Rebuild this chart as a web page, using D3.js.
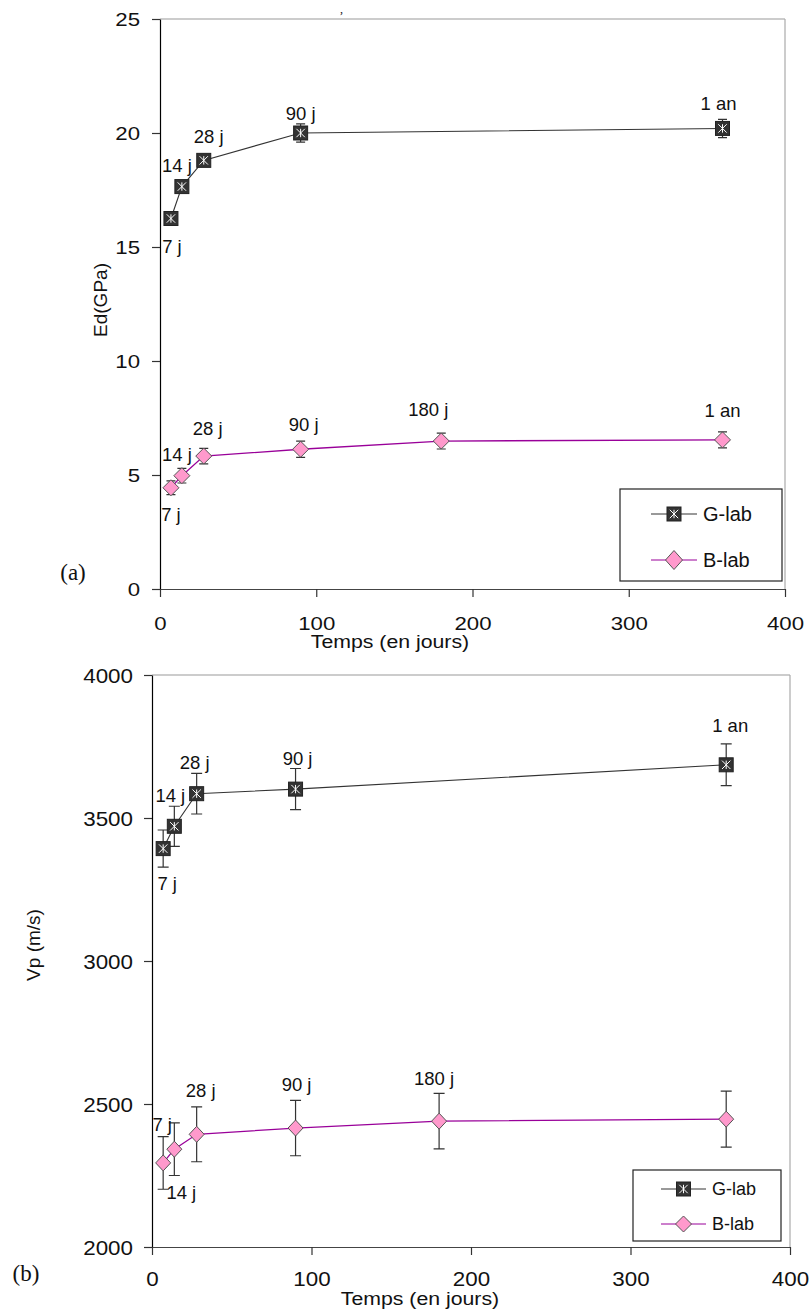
<!DOCTYPE html>
<html><head><meta charset="utf-8">
<script src="https://cdn.jsdelivr.net/npm/d3@7"></script>
<style>
html,body{margin:0;padding:0;background:#fff;}
svg{display:block;}
text{font-family:"Liberation Sans",Arial,sans-serif;fill:#111;}
</style></head>
<body>
<svg id="chart" width="811" height="1311"></svg>
<script>
// ---------- DATA ----------
const daysG = [7, 14, 28, 90, 360];
const daysB = [7, 14, 28, 90, 180, 360];
const labelsG = ["7 j", "14 j", "28 j", "90 j", "1 an"];
const labelsBa = ["7 j", "14 j", "28 j", "90 j", "180 j", "1 an"];
const labelsBb = ["7 j", "14 j", "28 j", "90 j", "180 j", ""];

const edGlab = [16.25, 17.65, 18.8, 20.0, 20.2];
const edGlabErr = [0.2, 0.2, 0.2, 0.4, 0.4];
const edBlab = [4.44, 4.97, 5.83, 6.13, 6.49, 6.54];
const edBlabErr = [0.3, 0.32, 0.34, 0.36, 0.35, 0.35];

const vpGlab = [3393, 3471, 3585, 3601, 3686];
const vpGlabErr = [65, 70, 71, 72, 73];
const vpBlab = [2294, 2342, 2394, 2416, 2440, 2447];
const vpBlabErr = [92, 92, 96, 97, 97, 98];

const xTicks = [0, 100, 200, 300, 400];
const edTicks = [0, 5, 10, 15, 20, 25];
const vpTicks = [2000, 2500, 3000, 3500, 4000];
const seriesNames = ["G-lab", "B-lab"];

// ---------- LAYOUT / STYLE ----------
const svg = d3.select("#chart");
const colG = "#333", colB = "#990099";

function drawSquare(g, x, y, s) {
  const m = g.append("g").attr("transform", `translate(${x},${y})`);
  m.append("rect").attr("x", -s/2).attr("y", -s/2).attr("width", s).attr("height", s)
    .attr("fill", "#333").attr("stroke", "#222").attr("stroke-width", 1);
  const r = s*0.3;
  m.append("path").attr("d", `M0,${-r}V${r}M${-r},${-r}L${r},${r}M${r},${-r}L${-r},${r}`)
    .attr("stroke", "#fff").attr("stroke-width", 1);
}
function drawDiamond(g, x, y, w, h) {
  g.append("path").attr("d", `M${x},${y-h/2}L${x+w/2},${y}L${x},${y+h/2}L${x-w/2},${y}Z`)
    .attr("fill", "#ff99cc").attr("stroke", "#555").attr("stroke-width", 1);
}

function panel(cfg) {
  const x = d3.scaleLinear().domain([0, 400]).range([cfg.x0, cfg.x1]);
  const y = d3.scaleLinear().domain(cfg.yDomain).range([cfg.y0, cfg.y1]);
  const g = svg.append("g");

  // frame top/right
  g.append("line").attr("x1", cfg.x0).attr("x2", cfg.x1).attr("y1", cfg.y1).attr("y2", cfg.y1)
    .attr("stroke", "#999").attr("stroke-width", 1.2);
  g.append("line").attr("x1", cfg.x1).attr("x2", cfg.x1).attr("y1", cfg.y1).attr("y2", cfg.y0)
    .attr("stroke", "#aaa").attr("stroke-width", 1.2);

  // axes
  const ya = g.append("g").attr("transform", `translate(${cfg.x0},0)`)
    .call(d3.axisLeft(y).tickValues(cfg.yTicks).tickSize(8).tickSizeOuter(0).tickFormat(d3.format("d")));
  ya.select(".domain").attr("stroke", "#000").attr("stroke-width", 1.2);
  ya.selectAll(".tick line").attr("stroke", "#333").attr("stroke-width", 1.2);
  ya.selectAll(".tick text").attr("font-size", cfg.fs).attr("fill", "#111")
    .attr("x", -cfg.yGap / cfg.sx).attr("dy", "0.36em")
    .attr("transform", `scale(${cfg.sx},1)`).style("font-family", '"Liberation Sans",Arial,sans-serif');

  const xa = g.append("g").attr("transform", `translate(0,${cfg.y0})`)
    .call(d3.axisBottom(x).tickValues(xTicks).tickSize(8).tickSizeOuter(0).tickFormat(d3.format("d")));
  xa.select(".domain").attr("stroke", "#444").attr("stroke-width", 1.2);
  xa.selectAll(".tick line").attr("stroke", "#333").attr("stroke-width", 1.2);
  xa.selectAll(".tick text").attr("font-size", cfg.fs).attr("fill", "#111")
    .attr("y", cfg.xGap).attr("dy", "0.36em")
    .attr("transform", `scale(${cfg.sx},1)`).style("font-family", '"Liberation Sans",Arial,sans-serif');

  // axis titles
  g.append("text").attr("x", cfg.xTitle[0]).attr("y", cfg.xTitle[1]).attr("text-anchor", "middle")
    .attr("font-size", cfg.titleFs).attr("transform-origin", `${cfg.xTitle[0]} ${cfg.xTitle[1]}`)
    .attr("transform", `scale(1.12,1)`).text("Temps (en jours)");
  g.append("text").attr("transform", `translate(${cfg.yTitle[0]},${cfg.yTitle[1]}) rotate(-90)`)
    .attr("text-anchor", "middle").attr("font-size", cfg.titleFs).attr("dy", "0.36em").text(cfg.yLabel);

  // series lines
  const line = d3.line().x(d => x(d[0])).y(d => y(d[1]));
  const gPts = daysG.map((d, i) => [d, cfg.gv[i], cfg.ge[i]]);
  const bPts = daysB.map((d, i) => [d, cfg.bv[i], cfg.be[i]]);
  g.append("path").datum(gPts).attr("d", line).attr("fill", "none").attr("stroke", colG).attr("stroke-width", 1.1);
  g.append("path").datum(bPts).attr("d", line).attr("fill", "none").attr("stroke", colB).attr("stroke-width", 1.3);

  // error bars
  function errs(pts) {
    pts.forEach(p => {
      const cx = x(p[0]), t = y(p[1] + p[2]), b = y(p[1] - p[2]), c = cfg.cap / 2;
      g.append("path").attr("d", `M${cx},${t}V${b}M${cx-c},${t}H${cx+c}M${cx-c},${b}H${cx+c}`)
        .attr("stroke", "#333").attr("stroke-width", 1.2).attr("fill", "none");
    });
  }
  errs(gPts); errs(bPts);

  // markers
  gPts.forEach(p => drawSquare(g, x(p[0]), y(p[1]), 14));
  bPts.forEach(p => drawDiamond(g, x(p[0]), y(p[1]), cfg.dw, cfg.dh));

  // point labels
  gPts.forEach((p, i) => {
    g.append("text").attr("x", x(p[0]) + cfg.gOff[i][0]).attr("y", y(p[1]) + cfg.gOff[i][1])
      .attr("dy", "0.36em").attr("text-anchor", "middle").attr("font-size", cfg.lfs).text(cfg.gLab[i]);
  });
  bPts.forEach((p, i) => {
    g.append("text").attr("x", x(p[0]) + cfg.bOff[i][0]).attr("y", y(p[1]) + cfg.bOff[i][1])
      .attr("dy", "0.36em").attr("text-anchor", "middle").attr("font-size", cfg.lfs).text(cfg.bLab[i]);
  });

  // legend
  const L = cfg.legend;
  g.append("rect").attr("x", L.x).attr("y", L.y).attr("width", L.w).attr("height", L.h)
    .attr("fill", "#fff").attr("stroke", "#222").attr("stroke-width", 1.2);
  seriesNames.forEach((name, i) => {
    const ly = L.rows[i];
    g.append("line").attr("x1", L.l0).attr("x2", L.l1).attr("y1", ly).attr("y2", ly)
      .attr("stroke", i === 0 ? "#777" : "#bb55bb").attr("stroke-width", 1.4);
    const mx = (L.l0 + L.l1) / 2;
    if (i === 0) drawSquare(g, mx, ly, 14); else drawDiamond(g, mx, ly, L.dw, L.dh);
    g.append("text").attr("x", L.tx).attr("y", ly).attr("dy", "0.36em")
      .attr("font-size", L.fs).text(name);
  });

  // panel tag
  svg.append("text").attr("x", cfg.tag[0]).attr("y", cfg.tag[1]).attr("text-anchor", "middle")
    .attr("font-size", 23).style("font-family", '"Liberation Serif","DejaVu Serif",serif').text(cfg.tagText);
}

panel({
  x0: 160, x1: 785, y0: 589, y1: 19, yDomain: [0, 25], yTicks: edTicks,
  gv: edGlab, ge: edGlabErr, bv: edBlab, be: edBlabErr,
  fs: 19, sx: 1.17, yGap: 20, xGap: 34, titleFs: 19, lfs: 18.5,
  xTitle: [390, 648], yTitle: [100, 300], yLabel: "Ed(GPa)",
  cap: 9, dw: 16, dh: 16,
  gLab: labelsG, bLab: labelsBa,
  gOff: [[1, 27.5], [-5, -21], [5, -24], [0, -20], [-4, -25]],
  bOff: [[0, 27], [-5, -21], [4, -28], [3, -25], [-13, -32], [0, -30]],
  legend: {x: 620, y: 489, w: 162, h: 92, rows: [514, 560], l0: 651, l1: 697, tx: 703, fs: 20, dw: 17, dh: 19},
  tag: [73, 580], tagText: "(a)"
});

panel({
  x0: 152, x1: 790, y0: 1247, y1: 675, yDomain: [2000, 4000], yTicks: vpTicks,
  gv: vpGlab, ge: vpGlabErr, bv: vpBlab, be: vpBlabErr,
  fs: 20, sx: 1.12, yGap: 19, xGap: 32, titleFs: 19, lfs: 18.5,
  xTitle: [420, 1305], yTitle: [33, 945], yLabel: "Vp (m/s)",
  cap: 11, dw: 15, dh: 16,
  gLab: labelsG, bLab: labelsBb,
  gOff: [[4, 35], [-4, -31], [-2, -31], [2, -31], [4, -39]],
  bOff: [[-1, -39], [7, 43], [4, -44], [1, -44], [-5, -43], [0, 0]],
  legend: {x: 633, y: 1170, w: 148, h: 71, rows: [1189, 1224], l0: 661, l1: 706, tx: 712, fs: 18, dw: 16, dh: 16},
  tag: [26, 1281], tagText: "(b)"
});

// small caption fragment near the top edge
svg.append("text").attr("x", 340).attr("y", 13).attr("font-size", 12)
  .style("font-family", '"Liberation Serif",serif').text(",");
</script>
</body></html>
